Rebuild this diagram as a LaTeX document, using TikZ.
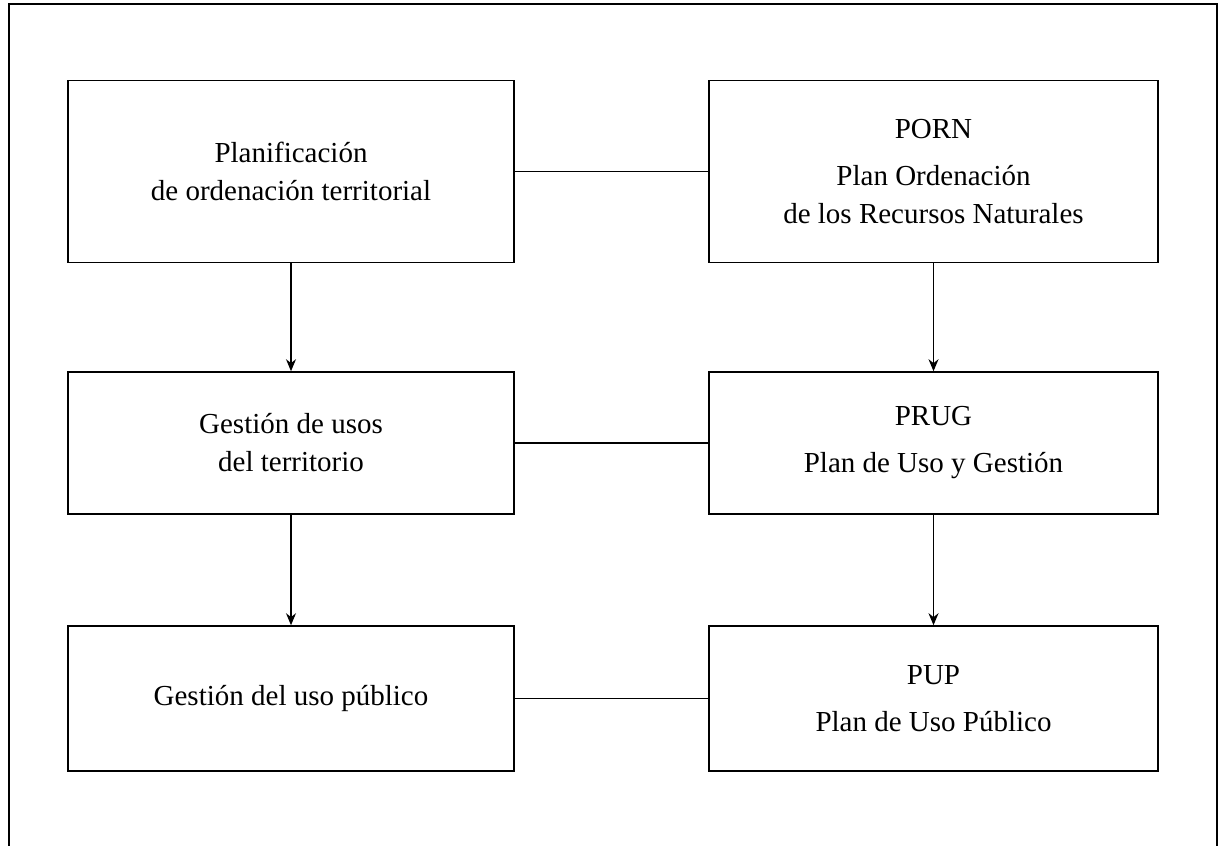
\documentclass[tikz,border=0pt]{standalone}
\usepackage{fontspec}
\setmainfont{Liberation Serif}
\usepackage{tikz}
\usetikzlibrary{arrows.meta, positioning}

\begin{document}
\begin{tikzpicture}[
  x=0.5pt, y=-0.5pt,
  every node/.style={font=\fontsize{14.5}{19}\selectfont},
  planbox/.style={draw, line width=0.8pt, align=center, inner sep=0pt, minimum width=223pt},
  link/.style={line width=0.6pt},
  flow/.style={-{Stealth[length=6pt,width=5pt]}, line width=0.6pt}
]
  % Page and outer frame
  \useasboundingbox (0,0) rectangle (1224,845);
  \draw[line width=1.2pt] (9,847) rectangle (1217,4);

  % Left column
  \node[planbox, minimum height=91pt] (planif) at (291,171.5) {Planificación\\de ordenación territorial};
  \node[planbox, minimum height=71pt] (usos) at (291,443) {Gestión de usos\\del territorio};
  \node[planbox, minimum height=72.5pt] (publico) at (291,698.5) {Gestión del uso público};

  % Right column
  \node[planbox, minimum height=91pt, minimum width=224.5pt] (porn) at (933.5,171.5) {PORN\\[4.5pt]Plan Ordenación\\de los Recursos Naturales};
  \node[planbox, minimum height=71pt, minimum width=224.5pt] (prug) at (933.5,443) {PRUG\\[4.5pt]Plan de Uso y Gestión};
  \node[planbox, minimum height=72.5pt, minimum width=224.5pt] (pup) at (933.5,698.5) {PUP\\[4.5pt]Plan de Uso Público};

  % Links between columns
  \draw[link] (planif) -- (porn);
  \draw[link] (usos) -- (prug);
  \draw[link] (publico) -- (pup);

  % Downward arrows
  \draw[flow] (planif) -- (usos);
  \draw[flow] (usos) -- (publico);
  \draw[flow] (porn) -- (prug);
  \draw[flow] (prug) -- (pup);
\end{tikzpicture}
\end{document}
